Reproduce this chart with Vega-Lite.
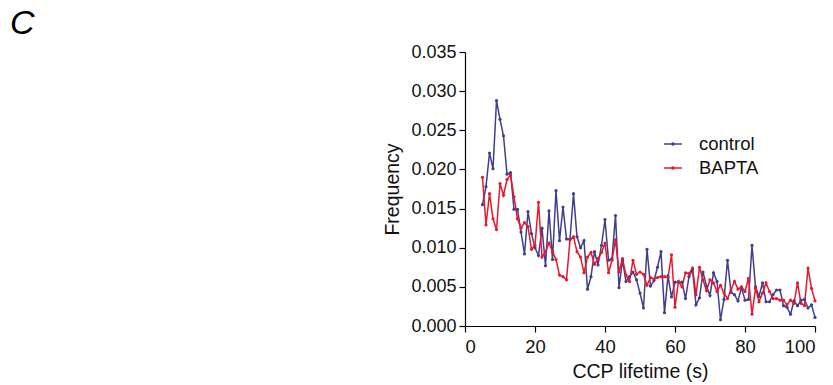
{
  "$schema": "https://vega.github.io/schema/vega-lite/v6.json",
  "autosize": "none",
  "width": 350,
  "height": 274,
  "padding": {"left": 465, "top": 52, "right": 18, "bottom": 59},
  "background": "white",
  "config": {
    "view": {"stroke": null},
    "font": "Liberation Sans"
  },
  "title": {
    "text": "C",
    "anchor": "start",
    "frame": "group",
    "fontSize": 34,
    "fontStyle": "italic",
    "fontWeight": "normal",
    "font": "Liberation Sans",
    "color": "#000000",
    "baseline": "alphabetic",
    "offset": 7,
    "dx": -455,
    "dy": 32
  },
  "data": {
    "values": [
      {"t": 5, "control": 0.0155, "BAPTA": 0.0190},
      {"t": 6, "control": 0.0178, "BAPTA": 0.0129},
      {"t": 7, "control": 0.0221, "BAPTA": 0.0169},
      {"t": 8, "control": 0.0201, "BAPTA": 0.0137},
      {"t": 9, "control": 0.0288, "BAPTA": 0.0123},
      {"t": 10, "control": 0.0264, "BAPTA": 0.0182},
      {"t": 11, "control": 0.0243, "BAPTA": 0.0167},
      {"t": 12, "control": 0.0194, "BAPTA": 0.0187},
      {"t": 13, "control": 0.0196, "BAPTA": 0.0193},
      {"t": 14, "control": 0.0149, "BAPTA": 0.0165},
      {"t": 15, "control": 0.0149, "BAPTA": 0.0137},
      {"t": 16, "control": 0.0120, "BAPTA": 0.0125},
      {"t": 17, "control": 0.0092, "BAPTA": 0.0132},
      {"t": 18, "control": 0.0146, "BAPTA": 0.0127},
      {"t": 19, "control": 0.0118, "BAPTA": 0.0098},
      {"t": 20, "control": 0.0100, "BAPTA": 0.0103},
      {"t": 21, "control": 0.0090, "BAPTA": 0.0158},
      {"t": 22, "control": 0.0125, "BAPTA": 0.0088},
      {"t": 23, "control": 0.0077, "BAPTA": 0.0095},
      {"t": 24, "control": 0.0147, "BAPTA": 0.0106},
      {"t": 25, "control": 0.0085, "BAPTA": 0.0095},
      {"t": 26, "control": 0.0173, "BAPTA": 0.0085},
      {"t": 27, "control": 0.0109, "BAPTA": 0.0065},
      {"t": 28, "control": 0.0152, "BAPTA": 0.0063},
      {"t": 29, "control": 0.0111, "BAPTA": 0.0059},
      {"t": 30, "control": 0.0111, "BAPTA": 0.0110},
      {"t": 31, "control": 0.0169, "BAPTA": 0.0114},
      {"t": 32, "control": 0.0114, "BAPTA": 0.0095},
      {"t": 33, "control": 0.0100, "BAPTA": 0.0088},
      {"t": 34, "control": 0.0109, "BAPTA": 0.0068},
      {"t": 35, "control": 0.0047, "BAPTA": 0.0088},
      {"t": 36, "control": 0.0063, "BAPTA": 0.0094},
      {"t": 37, "control": 0.0095, "BAPTA": 0.0079},
      {"t": 38, "control": 0.0078, "BAPTA": 0.0086},
      {"t": 39, "control": 0.0103, "BAPTA": 0.0094},
      {"t": 40, "control": 0.0136, "BAPTA": 0.0106},
      {"t": 41, "control": 0.0084, "BAPTA": 0.0068},
      {"t": 42, "control": 0.0086, "BAPTA": 0.0084},
      {"t": 43, "control": 0.0141, "BAPTA": 0.0110},
      {"t": 44, "control": 0.0049, "BAPTA": 0.0069},
      {"t": 45, "control": 0.0084, "BAPTA": 0.0086},
      {"t": 46, "control": 0.0057, "BAPTA": 0.0065},
      {"t": 47, "control": 0.0063, "BAPTA": 0.0057},
      {"t": 48, "control": 0.0069, "BAPTA": 0.0084},
      {"t": 49, "control": 0.0059, "BAPTA": 0.0066},
      {"t": 50, "control": 0.0042, "BAPTA": 0.0069},
      {"t": 51, "control": 0.0023, "BAPTA": 0.0066},
      {"t": 52, "control": 0.0098, "BAPTA": 0.0052},
      {"t": 53, "control": 0.0051, "BAPTA": 0.0062},
      {"t": 54, "control": 0.0058, "BAPTA": 0.0060},
      {"t": 55, "control": 0.0075, "BAPTA": 0.0062},
      {"t": 56, "control": 0.0095, "BAPTA": 0.0063},
      {"t": 57, "control": 0.0017, "BAPTA": 0.0063},
      {"t": 58, "control": 0.0064, "BAPTA": 0.0062},
      {"t": 59, "control": 0.0037, "BAPTA": 0.0091},
      {"t": 60, "control": 0.0056, "BAPTA": 0.0024},
      {"t": 61, "control": 0.0056, "BAPTA": 0.0057},
      {"t": 62, "control": 0.0056, "BAPTA": 0.0050},
      {"t": 63, "control": 0.0035, "BAPTA": 0.0068},
      {"t": 64, "control": 0.0063, "BAPTA": 0.0067},
      {"t": 65, "control": 0.0072, "BAPTA": 0.0074},
      {"t": 66, "control": 0.0027, "BAPTA": 0.0040},
      {"t": 67, "control": 0.0036, "BAPTA": 0.0075},
      {"t": 68, "control": 0.0069, "BAPTA": 0.0059},
      {"t": 69, "control": 0.0051, "BAPTA": 0.0045},
      {"t": 70, "control": 0.0039, "BAPTA": 0.0059},
      {"t": 71, "control": 0.0068, "BAPTA": 0.0055},
      {"t": 72, "control": 0.0057, "BAPTA": 0.0044},
      {"t": 73, "control": 0.0008, "BAPTA": 0.0052},
      {"t": 74, "control": 0.0034, "BAPTA": 0.0042},
      {"t": 75, "control": 0.0084, "BAPTA": 0.0035},
      {"t": 76, "control": 0.0043, "BAPTA": 0.0046},
      {"t": 77, "control": 0.0040, "BAPTA": 0.0057},
      {"t": 78, "control": 0.0032, "BAPTA": 0.0047},
      {"t": 79, "control": 0.0049, "BAPTA": 0.0050},
      {"t": 80, "control": 0.0033, "BAPTA": 0.0044},
      {"t": 81, "control": 0.0034, "BAPTA": 0.0061},
      {"t": 82, "control": 0.0103, "BAPTA": 0.0015},
      {"t": 83, "control": 0.0050, "BAPTA": 0.0048},
      {"t": 84, "control": 0.0038, "BAPTA": 0.0031},
      {"t": 85, "control": 0.0055, "BAPTA": 0.0042},
      {"t": 86, "control": 0.0031, "BAPTA": 0.0055},
      {"t": 87, "control": 0.0031, "BAPTA": 0.0044},
      {"t": 88, "control": 0.0040, "BAPTA": 0.0035},
      {"t": 89, "control": 0.0046, "BAPTA": 0.0035},
      {"t": 90, "control": 0.0046, "BAPTA": 0.0033},
      {"t": 91, "control": 0.0026, "BAPTA": 0.0033},
      {"t": 92, "control": 0.0024, "BAPTA": 0.0027},
      {"t": 93, "control": 0.0015, "BAPTA": 0.0033},
      {"t": 94, "control": 0.0032, "BAPTA": 0.0029},
      {"t": 95, "control": 0.0026, "BAPTA": 0.0055},
      {"t": 96, "control": 0.0033, "BAPTA": 0.0029},
      {"t": 97, "control": 0.0034, "BAPTA": 0.0026},
      {"t": 98, "control": 0.0023, "BAPTA": 0.0074},
      {"t": 99, "control": 0.0027, "BAPTA": 0.0048},
      {"t": 100, "control": 0.0011, "BAPTA": 0.0032}
    ]
  },
  "transform": [
    {"fold": ["control", "BAPTA"], "as": ["condition", "frequency"]}
  ],
  "mark": {
    "type": "line",
    "strokeWidth": 1.5,
    "point": {"size": 10, "filled": true}
  },
  "encoding": {
    "x": {
      "field": "t",
      "type": "quantitative",
      "scale": {"domain": [0, 100], "nice": false},
      "axis": {
        "values": [0, 20, 40, 60, 80, 100],
        "title": "CCP lifetime (s)",
        "grid": false,
        "domainColor": "#000000",
        "domainWidth": 1.2,
        "tickColor": "#000000",
        "tickWidth": 1.2,
        "tickSize": 6,
        "labelFontSize": 18.5,
        "labelColor": "#111111",
        "labelPadding": 5,
        "titleFontSize": 19.5,
        "titleFontWeight": "normal",
        "titleColor": "#111111",
        "titlePadding": 7
      }
    },
    "y": {
      "field": "frequency",
      "type": "quantitative",
      "scale": {"domain": [0, 0.035], "nice": false},
      "axis": {
        "values": [0, 0.005, 0.01, 0.015, 0.02, 0.025, 0.03, 0.035],
        "format": ".3f",
        "title": "Frequency",
        "grid": false,
        "domainColor": "#000000",
        "domainWidth": 1.2,
        "tickColor": "#000000",
        "tickWidth": 1.2,
        "tickSize": 6,
        "labelFontSize": 18,
        "labelColor": "#111111",
        "labelPadding": 3,
        "titleFontSize": 19.5,
        "titleFontWeight": "normal",
        "titleColor": "#111111",
        "titlePadding": 8
      }
    },
    "color": {
      "field": "condition",
      "type": "nominal",
      "scale": {"domain": ["control", "BAPTA"], "range": ["#3f3f8e", "#e8182b"]},
      "legend": {
        "title": null,
        "orient": "none",
        "legendX": 198,
        "legendY": 82,
        "symbolType": "M-1,0L1,0M-0.12,0A0.12,0.12 0 1,0 0.12,0A0.12,0.12 0 1,0 -0.12,0",
        "symbolSize": 320,
        "symbolStrokeWidth": 1.5,
        "labelFontSize": 18.5,
        "labelColor": "#111111",
        "labelOffset": 16,
        "rowPadding": 4
      }
    }
  }
}
